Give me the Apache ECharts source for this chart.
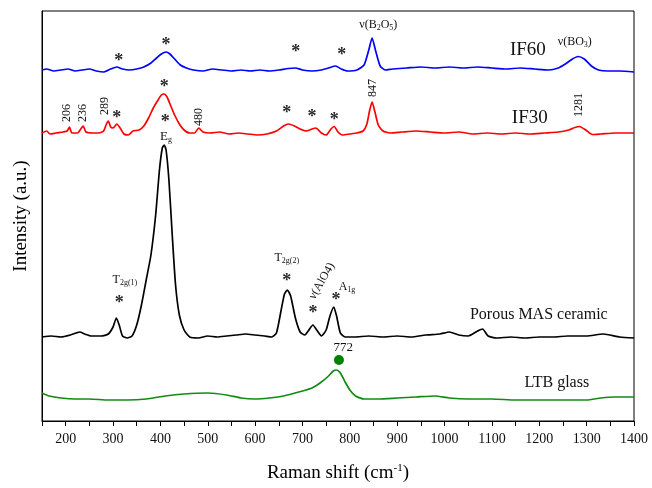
<!DOCTYPE html>
<html>
<head>
<meta charset="utf-8">
<script src="https://cdn.jsdelivr.net/npm/echarts@6/dist/echarts.min.js"></script>
<style>
  html, body { margin: 0; padding: 0; background: #fff; }
  #main { width: 652px; height: 488px; }
</style>
</head>
<body>
<div id="main"></div>
<script>
// Raman spectra: [shift (cm-1), intensity (a.u., stacked)]
var if60 = [
  [150, 351], [160, 352], [175, 350], [190, 351], [205, 352], [220, 350], [235, 351], [250, 352],
  [265, 350], [280, 349], [295, 352], [308, 354], [320, 352], [335, 351], [350, 352], [365, 354],
  [380, 358], [392, 363], [402, 367], [412, 369], [420, 367], [430, 362], [442, 356], [455, 353],
  [470, 351], [490, 350], [510, 352], [530, 351], [550, 350], [570, 351], [590, 350], [610, 351],
  [630, 350], [650, 351], [670, 352.5], [685, 353], [700, 351], [720, 350], [740, 351], [755, 353],
  [770, 355], [782, 352], [795, 350], [815, 351], [830, 356], [840, 371], [847, 383], [854, 371],
  [864, 355], [875, 351], [890, 352], [920, 353], [950, 354], [980, 353], [1010, 354], [1040, 353],
  [1070, 354], [1100, 353], [1130, 352], [1160, 353], [1190, 352], [1220, 351], [1240, 353],
  [1255, 357], [1270, 362], [1282, 364.5], [1295, 362], [1310, 355], [1325, 351], [1345, 350],
  [1370, 350], [1400, 349]
];
var if30 = [
  [150, 288], [160, 290], [167, 287], [180, 288], [195, 289], [203, 290], [208, 294], [213, 288],
  [225, 288], [232, 292], [237, 295], [243, 289], [258, 288], [270, 288], [280, 290], [286, 297],
  [290, 300], [295, 294], [300, 293], [308, 297], [315, 293], [323, 287], [332, 286], [342, 290],
  [355, 291], [365, 295], [375, 303], [385, 313], [395, 321], [402, 326], [408, 327], [414, 324],
  [422, 315], [430, 306], [440, 297], [450, 291], [462, 288], [472, 288], [481, 293], [490, 289],
  [505, 288], [525, 289], [545, 287], [565, 288], [585, 287], [605, 286], [625, 287], [645, 290],
  [660, 295], [670, 297], [683, 295], [695, 292], [708, 290], [720, 292], [728, 293], [740, 288],
  [750, 286], [760, 292], [767, 294.5], [775, 289], [785, 286], [800, 287], [815, 288], [828, 290],
  [836, 297], [842, 311], [847, 319], [853, 309], [860, 296], [870, 290], [885, 288], [910, 289],
  [940, 290], [970, 289], [1000, 288], [1030, 289], [1060, 287], [1090, 288], [1120, 287],
  [1150, 288], [1180, 287], [1210, 288], [1240, 289], [1262, 291], [1275, 293.5], [1285, 294.5],
  [1298, 291], [1312, 286.5], [1330, 287], [1360, 288], [1400, 288]
];
var masCeramic = [
  [150, 84], [170, 85], [190, 84], [210, 86], [222, 88], [230, 89], [240, 87], [255, 85],
  [275, 85], [290, 87], [300, 94], [307, 103], [313, 96], [320, 85], [330, 83], [340, 85],
  [350, 96], [360, 116], [370, 141], [380, 166], [390, 206], [398, 251], [404, 273], [408, 276],
  [412, 271], [418, 241], [425, 186], [432, 136], [440, 106], [450, 91], [462, 84], [480, 83],
  [500, 85], [520, 84], [540, 85], [560, 86], [580, 87], [600, 86], [620, 85], [635, 84],
  [645, 88], [655, 111], [662, 127], [668, 131], [675, 125], [685, 103], [695, 89], [705, 86],
  [712, 90], [722, 96], [730, 91], [740, 85], [750, 91], [758, 105], [766, 114], [772, 105],
  [780, 88], [790, 84], [810, 84], [840, 85], [870, 84], [900, 85], [930, 84], [960, 86],
  [990, 87], [1010, 89], [1030, 86], [1050, 85], [1070, 90], [1080, 92], [1092, 85], [1110, 83],
  [1140, 84], [1170, 83], [1200, 84], [1230, 84], [1260, 85], [1300, 85], [1335, 87], [1370, 84],
  [1400, 83]
];
var ltbGlass = [
  [150, 28], [165, 25], [190, 23], [220, 22], [250, 22], [290, 21], [330, 21], [370, 22],
  [410, 25], [450, 27], [500, 28], [540, 26], [570, 23], [600, 22], [630, 23], [660, 25],
  [700, 30], [720, 33], [740, 39], [755, 45], [765, 50], [772, 51], [780, 48], [790, 39],
  [800, 31], [812, 25], [830, 22], [860, 22], [900, 23], [940, 24], [980, 25], [1010, 23],
  [1050, 22], [1100, 22], [1150, 21], [1200, 21], [1250, 21], [1300, 21], [1330, 23],
  [1360, 24], [1400, 24]
];
var glassPeak = [[777, 61]];

// annotations: [x, y, text, rotate, fontSize]
var notes = [
  [312, 360, '*', 0, 18], [412, 376, '*', 0, 18], [686, 369, '*', 0, 18], [783, 366, '*', 0, 18],
  [860, 396, 'ν(B{s|2}O{s|5})', 0, 12],
  [1176, 371, 'IF60', 0, 19],
  [1275, 379, 'ν(BO{s|3})', 0, 12],
  [308, 303, '*', 0, 18], [408, 334, '*', 0, 18], [667, 308, '*', 0, 18], [720, 304, '*', 0, 18],
  [767, 301, '*', 0, 18],
  [202, 308, '206', 90, 12], [237, 308, '236', 90, 12], [282, 315, '289', 90, 12],
  [482, 304, '480', 90, 12], [849, 333, '847', 90, 12], [1284, 316, '1281', 90, 12],
  [1180, 303, 'IF30', 0, 19],
  [410, 299, '*', 0, 18], [412, 284, 'E{s|g}', 0, 13],
  [325, 141, 'T{s|2g(1)}', 0, 12], [313, 118, '*', 0, 18],
  [667, 163, 'T{s|2g(2)}', 0, 12], [667, 140, '*', 0, 18],
  [741, 140, 'ν(AlO4)', 60, 12], [722, 108, '*', 0, 18],
  [794, 134, 'A{s|1g}', 0, 12], [771, 121, '*', 0, 18],
  [1199, 106, 'Porous MAS ceramic', 0, 16],
  [1237, 38, 'LTB glass', 0, 16],
  [786, 73, '772', 0, 13]
];

var serif = 'Liberation Serif';

var myChart = echarts.init(document.getElementById('main'));

function trace(name, data, color) {
  return {
    name: name,
    type: 'line',
    data: data,
    showSymbol: false,
    smooth: 0.2,
    lineStyle: { color: color, width: 1.7 },
    silent: true,
    z: 2
  };
}

var option = {
  animation: false,
  grid: {
    left: 42, right: 18, top: 11, bottom: 67,
    show: true, borderColor: '#000', borderWidth: 1
  },
  xAxis: {
    type: 'value',
    min: 150,
    max: 1400,
    interval: 50,
    name: 'Raman shift (cm{sup|-1})',
    nameLocation: 'middle',
    nameGap: 42,
    nameTextStyle: {
      fontFamily: serif, fontSize: 19, color: '#000',
      rich: { sup: { fontFamily: serif, fontSize: 11, color: '#000', verticalAlign: 'bottom', padding: [0, 0, 10, 0] } }
    },
    axisLine: { lineStyle: { color: '#000', width: 1 } },
    axisTick: { length: 5, lineStyle: { color: '#000' } },
    axisLabel: {
      fontFamily: serif, fontSize: 14, color: '#111', margin: 11,
      formatter: function (v) { return v % 100 === 0 ? String(v) : ''; }
    },
    splitLine: { show: false }
  },
  yAxis: {
    type: 'value',
    min: 0,
    max: 410,
    name: 'Intensity (a.u.)',
    nameLocation: 'middle',
    nameGap: 11,
    nameTextStyle: { fontFamily: serif, fontSize: 19, color: '#000' },
    axisLine: { show: true, lineStyle: { color: '#000', width: 1 } },
    axisTick: { show: false },
    axisLabel: { show: false },
    splitLine: { show: false }
  },
  series: [
    trace('IF60', if60, '#0000ff'),
    trace('IF30', if30, '#ff0000'),
    trace('Porous MAS ceramic', masCeramic, '#000000'),
    trace('LTB glass', ltbGlass, '#138a13'),
    {
      type: 'scatter',
      data: glassPeak,
      symbolSize: 10,
      itemStyle: { color: '#008000', opacity: 1 },
      silent: true,
      z: 3
    },
    {
      type: 'scatter',
      symbolSize: 0,
      silent: true,
      z: 4,
      itemStyle: { opacity: 1 },
      data: notes.map(function (n) {
        var star = n[2] === '*';
        return {
          value: [n[0], n[1]],
          label: {
            show: true,
            position: 'inside',
            formatter: n[2],
            rotate: n[3],
            fontFamily: serif,
            fontSize: n[4],
            fontWeight: star ? 'bold' : 'normal',
            color: star ? '#2a2a2a' : '#111',
            textBorderWidth: 0,
            textBorderColor: 'transparent',
            rich: {
              s: {
                fontFamily: serif, fontSize: Math.round(n[4] * 0.65), color: '#111',
                textBorderWidth: 0, verticalAlign: 'bottom', padding: [6, 0, 0, 0]
              }
            }
          }
        };
      })
    }
  ]
};

myChart.setOption(option);
</script>
</body>
</html>
